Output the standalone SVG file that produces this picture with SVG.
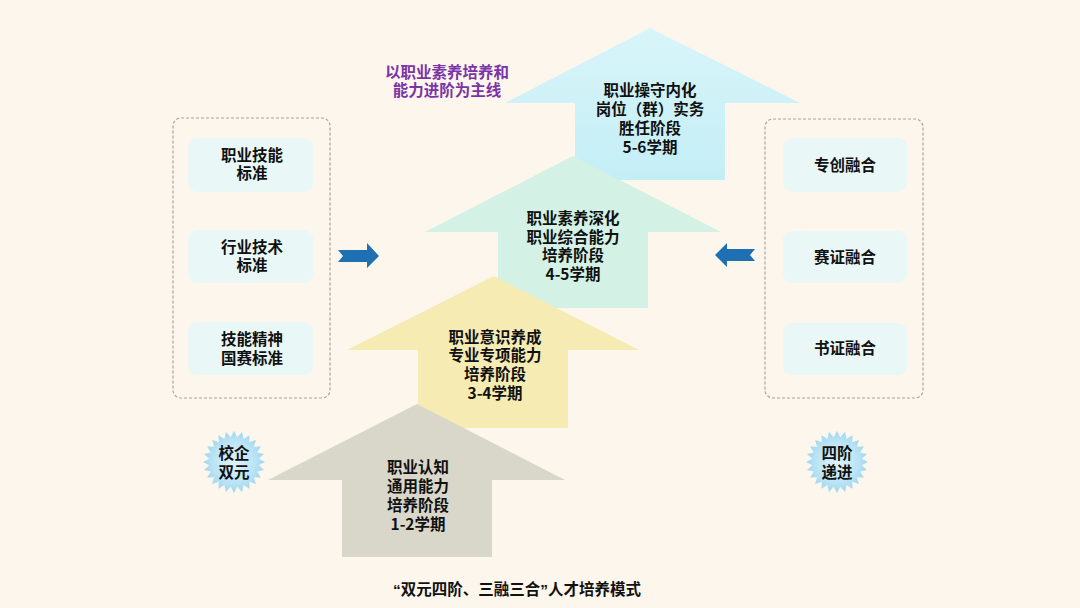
<svg xmlns="http://www.w3.org/2000/svg" width="1080" height="608" viewBox="0 0 1080 608">
<defs>
<style>
.t{font-family:"Noto Sans CJK SC","Noto Sans",sans-serif;font-weight:bold;font-size:15.5px;fill:#111;text-anchor:middle}
.p{fill:#7a34a8}
.q{font-family:"Liberation Sans",sans-serif}
.frame{fill:none;stroke:#a9a59c;stroke-width:1.2;stroke-dasharray:3 2}
.card{fill:#e9f8f6}
.blue{fill:#1f6fb3}
</style>
<radialGradient id="sg" cx="50%" cy="50%" r="50%">
<stop offset="0" stop-color="#dff3fb"/>
<stop offset="0.7" stop-color="#b9e3f5"/>
<stop offset="1" stop-color="#9fd6ef"/>
</radialGradient>
<linearGradient id="cy" x1="0" y1="0" x2="0" y2="1">
<stop offset="0" stop-color="#d8f5f9"/>
<stop offset="1" stop-color="#c4eef6"/>
</linearGradient>
<polygon id="star" points="31,0 24.79,3.26 29.94,8.02 23.1,9.57 26.85,15.5 19.84,15.22 21.92,21.92 15.22,19.84 15.5,26.85 9.57,23.1 8.02,29.94 3.26,24.79 0,31 -3.26,24.79 -8.02,29.94 -9.57,23.1 -15.5,26.85 -15.22,19.84 -21.92,21.92 -19.84,15.22 -26.85,15.5 -23.1,9.57 -29.94,8.02 -24.79,3.26 -31,0 -24.79,-3.26 -29.94,-8.02 -23.1,-9.57 -26.85,-15.5 -19.84,-15.22 -21.92,-21.92 -15.22,-19.84 -15.5,-26.85 -9.57,-23.1 -8.02,-29.94 -3.26,-24.79 0,-31 3.26,-24.79 8.02,-29.94 9.57,-23.1 15.5,-26.85 15.22,-19.84 21.92,-21.92 19.84,-15.22 26.85,-15.5 23.1,-9.57 29.94,-8.02 24.79,-3.26" fill="url(#sg)"/>
</defs>
<rect x="0" y="0" width="1080" height="608" fill="#fcf6ec"/>

<g id="stage4">
<polygon points="650,28 800,103 725,103 725,180 575,180 575,103 505,103" fill="url(#cy)"/>
<text class="t" x="650" y="95.5"><tspan x="650">职业操守内化</tspan><tspan x="650" dy="19">岗位（群）实务</tspan><tspan x="650" dy="19">胜任阶段</tspan><tspan x="650" dy="19">5-6学期</tspan></text>
</g>
<g id="stage3">
<polygon points="573,156 721,232 648,232 648,308 498,308 498,232 425,232" fill="#d3f1e4"/>
<text class="t" x="573" y="223.5"><tspan x="573">职业素养深化</tspan><tspan x="573" dy="19">职业综合能力</tspan><tspan x="573" dy="18.5">培养阶段</tspan><tspan x="573" dy="18.5">4-5学期</tspan></text>
</g>
<g id="stage2">
<polygon points="494,276 639,350 568,350 568,428 418,428 418,350 347,350" fill="#f5ebb3"/>
<text class="t" x="495" y="342.5"><tspan x="495">职业意识养成</tspan><tspan x="495" dy="18.5">专业专项能力</tspan><tspan x="495" dy="19">培养阶段</tspan><tspan x="495" dy="18.5">3-4学期</tspan></text>
</g>
<g id="stage1">
<polygon points="417,404 565,480 492,480 492,557 342,557 342,480 268,480" fill="#d8d7ca"/>
<text class="t" x="418" y="472.5"><tspan x="418">职业认知</tspan><tspan x="418" dy="19">通用能力</tspan><tspan x="418" dy="19">培养阶段</tspan><tspan x="418" dy="19">1-2学期</tspan></text>
</g>

<g id="mainline">
<text class="t p" x="447" y="77.5"><tspan x="447">以职业素养培养和</tspan><tspan x="447" dy="18">能力进阶为主线</tspan></text>
</g>

<g id="standards">
<rect class="frame" x="173" y="118" width="157" height="280" rx="8"/>
<g id="std1">
<rect class="card" x="188" y="138" width="125" height="54" rx="9"/>
<text class="t" x="252" y="160.5"><tspan x="252">职业技能</tspan><tspan x="252" dy="18.5">标准</tspan></text>
</g>
<g id="std2">
<rect class="card" x="188" y="230" width="125" height="53" rx="9"/>
<text class="t" x="252" y="252.5"><tspan x="252">行业技术</tspan><tspan x="252" dy="18.5">标准</tspan></text>
</g>
<g id="std3">
<rect class="card" x="188" y="322" width="125" height="53" rx="9"/>
<text class="t" x="252" y="344.5"><tspan x="252">技能精神</tspan><tspan x="252" dy="19">国赛标准</tspan></text>
</g>
</g>

<g id="fusions">
<rect class="frame" x="765" y="119" width="158" height="279" rx="8"/>
<g id="fus1">
<rect class="card" x="783" y="138" width="124" height="54" rx="9"/>
<text class="t" x="845" y="170.5">专创融合</text>
</g>
<g id="fus2">
<rect class="card" x="783" y="231" width="124" height="52" rx="9"/>
<text class="t" x="845" y="262.5">赛证融合</text>
</g>
<g id="fus3">
<rect class="card" x="783" y="323" width="124" height="52" rx="9"/>
<text class="t" x="845" y="353.5">书证融合</text>
</g>
</g>

<g id="connectors">
<polygon class="blue" points="338,250 367,250 367,243 379,256 367,268 367,262 338,262 343,256"/>
<polygon class="blue" points="755,249 727,249 727,243 715,255 727,267 727,261 755,261 750,255"/>
</g>

<g id="dual">
<use href="#star" transform="translate(234,462)"/>
<text class="t" x="234" y="458.5"><tspan x="234">校企</tspan><tspan x="234" dy="19">双元</tspan></text>
</g>
<g id="fourstage">
<use href="#star" transform="translate(837,462)"/>
<text class="t" x="837" y="458.5"><tspan x="837">四阶</tspan><tspan x="837" dy="19">递进</tspan></text>
</g>

<g id="title">
<text class="t" x="517" y="595"><tspan class="q">“</tspan>双元四阶、三融三合<tspan class="q">”</tspan>人才培养模式</text>
</g>
</svg>
